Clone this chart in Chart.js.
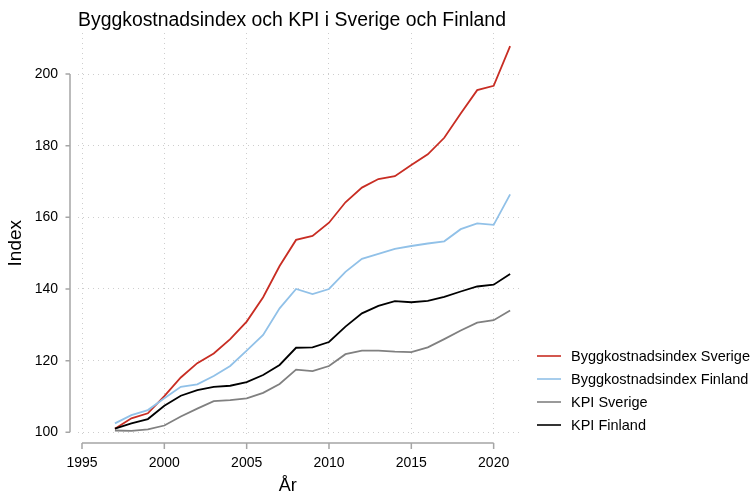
<!DOCTYPE html>
<html>
<head>
<meta charset="utf-8">
<script src="https://cdn.jsdelivr.net/npm/chart.js@4/dist/chart.umd.min.js"></script>
<style>
  html, body { margin: 0; padding: 0; background: #fff; }
  #wrap { width: 755px; height: 497px; position: relative; }
</style>
</head>
<body>
<div id="wrap"><canvas id="myChart"></canvas></div>
<script>
const years = [1997, 1998, 1999, 2000, 2001, 2002, 2003, 2004, 2005, 2006, 2007, 2008, 2009,
  2010, 2011, 2012, 2013, 2014, 2015, 2016, 2017, 2018, 2019, 2020, 2021];

const byggSverige = [101.0, 103.9, 105.3, 110.1, 115.3, 119.3, 122.0, 126.0, 130.9, 137.7, 146.4, 153.7, 154.8,
  158.5, 164.2, 168.3, 170.7, 171.5, 174.6, 177.6, 182.2, 189.0, 195.5, 196.7, 207.8];
const byggFinland = [102.5, 104.8, 106.2, 109.5, 112.7, 113.4, 115.7, 118.5, 122.8, 127.2, 134.6, 140.0, 138.6,
  140.0, 144.8, 148.4, 149.8, 151.2, 152.0, 152.7, 153.3, 156.7, 158.3, 157.9, 166.4];
const kpiSverige = [100.5, 100.4, 100.8, 101.9, 104.4, 106.6, 108.7, 109.0, 109.5, 111.0, 113.5, 117.5, 117.1,
  118.5, 121.8, 122.8, 122.8, 122.5, 122.4, 123.7, 126.0, 128.4, 130.6, 131.3, 134.0];
const kpiFinland = [101.0, 102.5, 103.7, 107.4, 110.2, 111.8, 112.7, 113.0, 114.0, 116.0, 118.8, 123.6, 123.7,
  125.2, 129.5, 133.2, 135.3, 136.6, 136.3, 136.7, 137.8, 139.3, 140.7, 141.2, 144.2];

const seriesNames = ["Byggkostnadsindex Sverige", "Byggkostnadsindex Finland", "KPI Sverige", "KPI Finland"];
const xTicks = [1995, 2000, 2005, 2010, 2015, 2020];
const yTicks = [100, 120, 140, 160, 180, 200];

const chartTitle = "Byggkostnadsindex och KPI i Sverige och Finland";
const xTitle = "År";
const yTitle = "Index";

const FONT = "'Liberation Sans', Arial, Helvetica, sans-serif";
const colors = ["rgb(200,45,35)", "rgb(145,193,232)", "rgb(128,128,128)", "rgb(0,0,0)"];
const axisColor = "rgb(165,165,165)";

function toPoints(values) {
  return values.map((v, i) => ({ x: years[i], y: v }));
}

// stata-like axes, titles and legend drawn on top of the chart
const decorations = {
  id: "decorations",
  afterDraw(chart) {
    const ctx = chart.ctx;
    const xs = chart.scales.x;
    const ys = chart.scales.y;
    const axisX = 70;
    const axisY = 443;

    ctx.save();
    ctx.strokeStyle = axisColor;
    ctx.lineWidth = 1.5;

    // y axis line + ticks
    const yTop = ys.getPixelForValue(yTicks[yTicks.length - 1]);
    const yBot = ys.getPixelForValue(yTicks[0]);
    ctx.beginPath();
    ctx.moveTo(axisX, yTop);
    ctx.lineTo(axisX, yBot);
    yTicks.forEach((t) => {
      const p = ys.getPixelForValue(t);
      ctx.moveTo(axisX - 4.5, p);
      ctx.lineTo(axisX, p);
    });
    ctx.stroke();

    // x axis line + ticks
    const xLeft = xs.getPixelForValue(xTicks[0]);
    const xRight = xs.getPixelForValue(xTicks[xTicks.length - 1]);
    ctx.beginPath();
    ctx.moveTo(xLeft, axisY);
    ctx.lineTo(xRight, axisY);
    xTicks.forEach((t) => {
      const p = xs.getPixelForValue(t);
      ctx.moveTo(p, axisY);
      ctx.lineTo(p, axisY + 6);
    });
    ctx.stroke();

    // titles
    ctx.fillStyle = "#000";
    ctx.textAlign = "left";
    ctx.textBaseline = "middle";
    ctx.font = "19.4px " + FONT;
    ctx.fillText(chartTitle, 78, 21);

    ctx.textAlign = "center";
    ctx.font = "18px " + FONT;
    ctx.fillText(xTitle, (xLeft + xRight) / 2, 486);

    ctx.save();
    ctx.translate(16, (yTop + yBot) / 2 - 10);
    ctx.rotate(-Math.PI / 2);
    ctx.font = "19px " + FONT;
    ctx.fillText(yTitle, 0, 0);
    ctx.restore();

    // legend, in series order
    ctx.font = "14.5px " + FONT;
    ctx.textAlign = "left";
    seriesNames.forEach((name, i) => {
      const y = 356 + i * 23;
      ctx.strokeStyle = colors[i];
      ctx.lineWidth = 1.6;
      ctx.beginPath();
      ctx.moveTo(537, y);
      ctx.lineTo(561, y);
      ctx.stroke();
      ctx.fillStyle = "#000";
      ctx.fillText(name, 571, y + 1);
    });
    ctx.restore();
  },
};

const gridOpts = {
  color: "rgb(205,205,205)",
  lineWidth: 1,
  drawTicks: false,
};

new Chart(document.getElementById("myChart"), {
  type: "line",
  data: {
    datasets: [byggSverige, byggFinland, kpiSverige, kpiFinland].map((vals, i) => ({
      label: seriesNames[i],
      data: toPoints(vals),
      borderColor: colors[i],
      backgroundColor: colors[i],
      borderWidth: 1.8,
      pointRadius: 0,
      tension: 0,
      fill: false,
      order: 4 - i,
    })),
  },
  options: {
    responsive: true,
    maintainAspectRatio: false,
    animation: false,
    layout: { padding: { top: 33, right: 235, bottom: 0, left: 0 } },
    plugins: {
      legend: { display: false },
      title: { display: false },
      tooltip: { enabled: false },
    },
    scales: {
      x: {
        type: "linear",
        min: 1994.757,
        max: 2021.6,
        afterBuildTicks: (scale) => { scale.ticks = xTicks.map((v) => ({ value: v })); },
        afterFit: (scale) => { scale.height = 61; },
        border: { display: false, dash: [1, 4] },
        grid: gridOpts,
        ticks: {
          padding: 19,
          color: "#000",
          font: { family: FONT, size: 14 },
          maxRotation: 0,
          callback: (v) => String(v),
        },
      },
      y: {
        min: 98.97,
        max: 211.45,
        afterBuildTicks: (scale) => { scale.ticks = yTicks.map((v) => ({ value: v })); },
        afterFit: (scale) => { scale.width = 78; },
        border: { display: false, dash: [1, 4] },
        grid: gridOpts,
        ticks: {
          padding: 20,
          color: "#000",
          font: { family: FONT, size: 14 },
          callback: (v) => String(v),
        },
      },
    },
  },
  plugins: [decorations],
});
</script>
</body>
</html>
